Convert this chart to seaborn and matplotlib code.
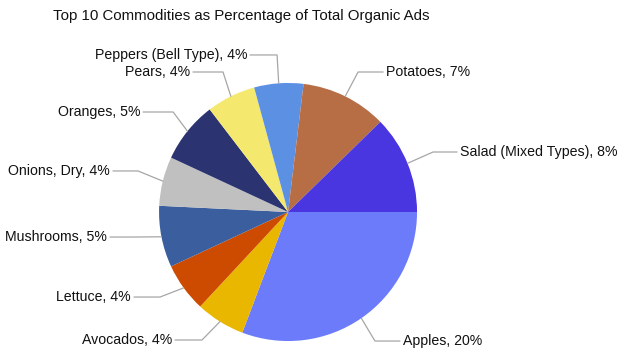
import matplotlib
matplotlib.use("Agg")
import matplotlib.pyplot as plt
import seaborn as sns
import numpy as np

sns.set_theme(style="white")
plt.rcParams["font.family"] = ["Liberation Sans", "DejaVu Sans"]

# data
commodities = [
    "Apples", "Avocados", "Lettuce", "Mushrooms", "Onions, Dry",
    "Oranges", "Pears", "Peppers (Bell Type)", "Potatoes", "Salad (Mixed Types)",
]
percent = [20, 4, 4, 5, 4, 5, 4, 4, 7, 8]
colors = [
    "#6b7bfa", "#e9b600", "#cc4b00", "#3b5f9e", "#c0c0c0",
    "#2b3470", "#f5e86e", "#5b90e2", "#b86e45", "#4a36e0",
]

# label layout: elbow point of the leader line and text anchor (data units, radius = 1)
elbows = [
    (0.674, -1.000), (-0.667, -0.992), (-0.992, -0.659), (-1.186, -0.194), (-1.163, 0.318),
    (-0.891, 0.775), (-0.504, 1.085), (-0.085, 1.217), (0.543, 1.085), (1.124, 0.465),
]
text_x = [0.891, -0.899, -1.217, -1.403, -1.380, -1.147, -0.760, -0.318, 0.760, 1.333]

fig = plt.figure(figsize=(6.26, 3.52), dpi=100)
ax = fig.add_axes([0, 0, 1, 1])

wedges, _ = ax.pie(
    percent,
    colors=colors,
    startangle=0,
    counterclock=False,
    radius=1,
    center=(0, 0),
    wedgeprops=dict(linewidth=0, edgecolor="none"),
)

for w, name, val, (ex, ey), tx in zip(wedges, commodities, percent, elbows, text_x):
    mid = np.deg2rad((w.theta1 + w.theta2) / 2)
    ax0, ay0 = np.cos(mid), np.sin(mid)
    right = tx > 0
    gap = 0.023
    lx = tx - gap if right else tx + gap
    ax.plot([ax0, ex, lx], [ay0, ey, ey], color="#a6a6a6", lw=0.9, zorder=1)
    ax.text(
        tx, ey, f"{name}, {val}%",
        ha="left" if right else "right", va="center",
        fontsize=10.2, color="#111111",
    )

ax.set_xlim(-2.233, 2.620)
ax.set_ylim(-1.085, 1.643)
ax.set_aspect("auto")
ax.axis("off")

fig.text(0.385, 0.955, "Top 10 Commodities as Percentage of Total Organic Ads",
         ha="center", va="center", fontsize=10.8, color="#111111")

fig.savefig("out.png", dpi=100)
